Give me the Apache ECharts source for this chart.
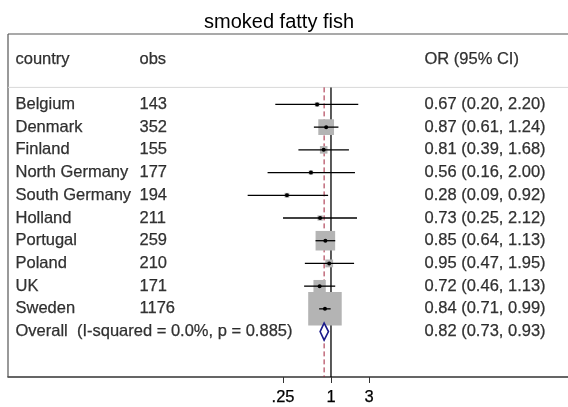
<!DOCTYPE html>
<html>
<head>
<meta charset="utf-8">
<script src="https://cdn.jsdelivr.net/npm/echarts@6.0.0/dist/echarts.min.js"></script>
<style>
html,body{margin:0;padding:0;background:#fff;}
#chart{width:568px;height:407px;}
</style>
</head>
<body>
<div id="chart"></div>
<script>
// ---- data ----
const titleText = 'smoked fatty fish';
const headers = ['country', 'obs', 'OR (95% CI)'];
const countries = ['Belgium', 'Denmark', 'Finland', 'North Germany', 'South Germany', 'Holland', 'Portugal', 'Poland', 'UK', 'Sweden'];
const obs = [143, 352, 155, 177, 194, 211, 259, 210, 171, 1176];
const orEst = [0.67, 0.87, 0.81, 0.56, 0.28, 0.73, 0.85, 0.95, 0.72, 0.84];
const orLow = [0.20, 0.61, 0.39, 0.16, 0.09, 0.25, 0.64, 0.47, 0.46, 0.71];
const orHigh = [2.20, 1.24, 1.68, 2.00, 0.92, 2.12, 1.13, 1.95, 1.13, 0.99];
const weights = [1.0, 11.7, 2.7, 0.9, 1.1, 1.3, 18.1, 2.9, 7.2, 53.1]; // study weights (%)
const overallLabel = 'Overall  (I-squared = 0.0%, p = 0.885)';
const overallEst = 0.82, overallLow = 0.73, overallHigh = 0.93;
const nullValue = 1;
const tickValues = [0.25, 1, 3];
const tickLabels = ['.25', '1', '3'];

// ---- layout / style ----
const FONT = 'Liberation Sans, Arial, Helvetica, sans-serif';
const FS = 16.5;
const GRID_TOP = 34, GRID_BOTTOM = 30;
const Y_MIN = -3.1, Y_MAX = 12;
const X_MIN = 0.0000883, X_MAX = 944;
const HEADER_ROW = -2, SEP_ROW = -0.75;
const BOX_SCALE = 4.6;
const fmt = v => v.toFixed(2);
const ciText = (e, l, h) => fmt(e) + ' (' + fmt(l) + ', ' + fmt(h) + ')';
const nRows = countries.length;
const overallRow = nRows;

const chart = echarts.init(document.getElementById('chart'), null, {renderer: 'canvas'});

function textColumn(idx, items) {
  return {
    type: 'scatter', xAxisIndex: idx, yAxisIndex: idx, silent: true,
    symbolSize: 1, itemStyle: {color: 'transparent'},
    label: {show: true, position: 'right', distance: 0, formatter: '{b}',
      fontFamily: FONT, fontSize: FS, color: '#000', textBorderColor: '#000', textBorderWidth: 0.25},
    data: items, z: 5
  };
}

const colCountry = [{name: headers[0], value: [0, HEADER_ROW]}]
  .concat(countries.map((c, i) => ({name: c, value: [0, i]})))
  .concat([{name: overallLabel, value: [0, overallRow]}]);
const colObs = [{name: headers[1], value: [0, HEADER_ROW]}]
  .concat(obs.map((o, i) => ({name: String(o), value: [0, i]})));
const colOR = [{name: headers[2], value: [0, HEADER_ROW]}]
  .concat(orEst.map((e, i) => ({name: ciText(e, orLow[i], orHigh[i]), value: [0, i]})))
  .concat([{name: ciText(overallEst, overallLow, overallHigh), value: [0, overallRow]}]);

const forestData = countries.map((c, i) => [i, orEst[i], orLow[i], orHigh[i], weights[i]]);

const textGrid = left => ({left: left, top: GRID_TOP, bottom: GRID_BOTTOM, width: 100, show: false, outerBoundsMode: 'none'});
const hiddenX = g => ({type: 'value', gridIndex: g, min: 0, max: 1, show: false});
const hiddenY = g => ({type: 'value', gridIndex: g, inverse: true, min: Y_MIN, max: Y_MAX, show: false});

const option = {
  animation: false,
  backgroundColor: '#fff',
  title: {text: titleText, left: 199, top: 7,
    textStyle: {fontFamily: FONT, fontSize: 20, fontWeight: 'normal', color: '#000'}},
  grid: [
    {left: 8, top: GRID_TOP, right: 0, bottom: GRID_BOTTOM, show: false, outerBoundsMode: 'none'},
    textGrid(15), textGrid(139), textGrid(424)
  ],
  xAxis: [
    {type: 'log', gridIndex: 0, logBase: 10, min: X_MIN, max: X_MAX,
      axisLine: {show: true, onZero: false, lineStyle: {color: '#333', width: 1.6}},
      axisTick: {show: true, customValues: tickValues, length: 6, lineStyle: {color: '#333', width: 1}},
      axisLabel: {show: true, customValues: tickValues, margin: 12, fontFamily: FONT, fontSize: FS, color: '#000',
        textBorderColor: '#000', textBorderWidth: 0.25,
        formatter: v => { const k = tickValues.findIndex(t => Math.abs(t - v) < 1e-9); return k >= 0 ? tickLabels[k] : ''; }},
      splitLine: {show: false}, minorTick: {show: false}, minorSplitLine: {show: false}},
    hiddenX(1), hiddenX(2), hiddenX(3)
  ],
  yAxis: [hiddenY(0), hiddenY(1), hiddenY(2), hiddenY(3)],
  series: [
    // frame, header separator, overall (dashed) and null reference lines
    {
      type: 'custom', xAxisIndex: 0, yAxisIndex: 0, silent: true, z: 1, clip: false,
      data: [[nullValue, overallEst]],
      encode: {x: [0, 1]},
      renderItem: (params, api) => {
        const cs = params.coordSys;
        const ySep = api.coord([nullValue, SEP_ROW])[1];
        const yBot = api.coord([nullValue, Y_MAX])[1];
        const xNull = api.coord([api.value(0), SEP_ROW])[0];
        const xOv = api.coord([api.value(1), SEP_ROW])[0];
        return {type: 'group', children: [
          {type: 'line', shape: {x1: cs.x, y1: cs.y, x2: cs.x + cs.width, y2: cs.y}, style: {stroke: '#555', lineWidth: 1.2}},
          {type: 'line', shape: {x1: cs.x, y1: cs.y, x2: cs.x, y2: cs.y + cs.height}, style: {stroke: '#555', lineWidth: 1.2}},
          {type: 'line', shape: {x1: cs.x, y1: ySep, x2: cs.x + cs.width, y2: ySep}, style: {stroke: '#d8d8d8', lineWidth: 1}},
          {type: 'line', shape: {x1: xOv, y1: ySep, x2: xOv, y2: yBot}, style: {stroke: '#a3213a', lineWidth: 1, lineDash: [5, 3]}},
          {type: 'line', shape: {x1: xNull, y1: ySep, x2: xNull, y2: yBot}, style: {stroke: '#000', lineWidth: 1.3}}
        ]};
      }
    },
    {
      type: 'custom', xAxisIndex: 0, yAxisIndex: 0, silent: true, z: 3,
      data: forestData,
      encode: {x: [1, 2, 3], y: 0},
      renderItem: (params, api) => {
        const row = api.value(0), e = api.value(1), lo = api.value(2), hi = api.value(3), w = api.value(4);
        const c = api.coord([e, row]), l = api.coord([lo, row]), h = api.coord([hi, row]);
        const side = BOX_SCALE * Math.sqrt(w);
        return {type: 'group', children: [
          {type: 'rect', shape: {x: c[0] - side / 2, y: c[1] - side / 2, width: side, height: side}, style: {fill: '#b4b4b4'}},
          {type: 'line', shape: {x1: l[0], y1: l[1], x2: h[0], y2: h[1]}, style: {stroke: '#000', lineWidth: 1.3}},
          {type: 'circle', shape: {cx: c[0], cy: c[1], r: 2}, style: {fill: '#000'}}
        ]};
      }
    },
    {
      type: 'custom', xAxisIndex: 0, yAxisIndex: 0, silent: true, z: 4,
      data: [[overallRow, overallEst, overallLow, overallHigh]],
      encode: {x: [1, 2, 3], y: 0},
      renderItem: (params, api) => {
        const row = api.value(0);
        const c = api.coord([api.value(1), row]), l = api.coord([api.value(2), row]), h = api.coord([api.value(3), row]);
        const hh = 8.5;
        return {type: 'polygon', shape: {points: [[l[0], l[1]], [c[0], c[1] - hh], [h[0], h[1]], [c[0], c[1] + hh]]},
          style: {fill: '#fff', stroke: '#1a1a8a', lineWidth: 1.6}};
      }
    },
    textColumn(1, colCountry),
    textColumn(2, colObs),
    textColumn(3, colOR)
  ]
};
chart.setOption(option);
</script>
</body>
</html>
